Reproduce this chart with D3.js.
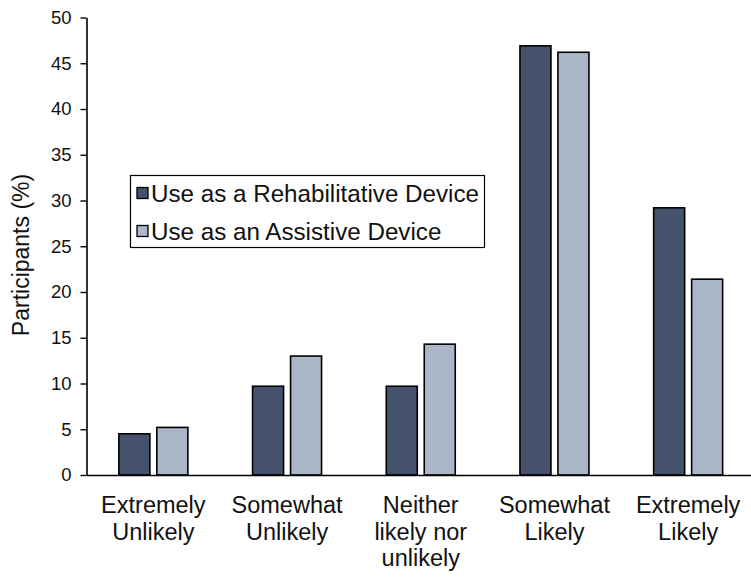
<!DOCTYPE html>
<html>
<head>
<meta charset="utf-8">
<script src="https://cdn.jsdelivr.net/npm/d3@7"></script>
<style>
  html, body { margin: 0; padding: 0; background: #fff; }
  svg { display: block; font-family: "Liberation Sans", Arial, sans-serif; }
</style>
</head>
<body>
<svg id="chart" width="751" height="577"></svg>
<script>
// Survey response categories (multi-line labels)
const categories = [
  ["Extremely", "Unlikely"],
  ["Somewhat", "Unlikely"],
  ["Neither", "likely nor", "unlikely"],
  ["Somewhat", "Likely"],
  ["Extremely", "Likely"]
];
const seriesNames = ["Use as a Rehabilitative Device", "Use as an Assistive Device"];
const rehabilitative = [4.5, 9.7, 9.7, 46.9, 29.2];
const assistive = [5.2, 13.0, 14.3, 46.2, 21.4];
const yTicks = [0, 5, 10, 15, 20, 25, 30, 35, 40, 45, 50];
const colors = ["#44536b", "#abb6c8"];

const svg = d3.select("#chart");
const catKeys = categories.map(c => c.join(" "));
const values = [rehabilitative, assistive];

const x0 = d3.scaleBand()
  .domain(catKeys)
  .range([86.5, 755])
  .paddingInner(0.484)
  .paddingOuter(0.242);

const x1 = d3.scaleBand()
  .domain(seriesNames)
  .range([0, x0.bandwidth()])
  .paddingInner(0.184);

const y = d3.scaleLinear().domain([0, 50]).range([475, 17.5]);

// Bars
const groups = svg.append("g")
  .selectAll("g")
  .data(catKeys)
  .join("g")
  .attr("transform", d => `translate(${x0(d)},0)`);

groups.selectAll("rect")
  .data((d, i) => seriesNames.map((s, j) => ({ s, v: values[j][i], j })))
  .join("rect")
  .attr("x", d => x1(d.s))
  .attr("y", d => y(d.v))
  .attr("width", x1.bandwidth())
  .attr("height", d => y(0) - y(d.v))
  .attr("fill", d => colors[d.j])
  .attr("stroke", "#000")
  .attr("stroke-width", 1.6);

// Y axis
const yAxis = svg.append("g")
  .attr("transform", "translate(86.5,0)")
  .call(d3.axisLeft(y).tickValues(yTicks).tickSize(6).tickPadding(9).tickSizeOuter(0));
yAxis.select(".domain").attr("stroke", "#000").attr("stroke-width", 1.6);
yAxis.selectAll(".tick line").attr("stroke", "#000").attr("stroke-width", 1.4);
yAxis.selectAll(".tick text")
  .attr("font-size", 18.5)
  .attr("font-family", "Liberation Sans, Arial, sans-serif")
  .attr("fill", "#111");

// X axis baseline
const xAxis = svg.append("g")
  .attr("transform", `translate(0,${y(0)})`)
  .call(d3.axisBottom(x0).tickSize(0).tickSizeOuter(0).tickFormat(""));
xAxis.select(".domain").attr("stroke", "#000").attr("stroke-width", 1.6);

// Category labels
catKeys.forEach((k, i) => {
  const cx = x0(k) + x0.bandwidth() / 2;
  const t = svg.append("text")
    .attr("x", cx)
    .attr("y", 513)
    .attr("text-anchor", "middle")
    .attr("font-size", 23.5)
    .attr("fill", "#111");
  categories[i].forEach((line, li) => {
    t.append("tspan")
      .attr("x", cx)
      .attr("dy", li === 0 ? 0 : 26.5)
      .text(line);
  });
});

// Y title
svg.append("text")
  .attr("transform", "translate(29,255) rotate(-90)")
  .attr("text-anchor", "middle")
  .attr("font-size", 23)
  .attr("fill", "#111")
  .text("Participants (%)");

// Legend
const legend = svg.append("g");
legend.append("rect")
  .attr("x", 130.5).attr("y", 175.5)
  .attr("width", 354).attr("height", 72)
  .attr("fill", "#fff")
  .attr("stroke", "#000")
  .attr("stroke-width", 1.2);

seriesNames.forEach((s, i) => {
  const cy = 193 + i * 38;
  legend.append("rect")
    .attr("x", 137).attr("y", cy - 5.5)
    .attr("width", 11).attr("height", 11)
    .attr("fill", colors[i])
    .attr("stroke", "#000")
    .attr("stroke-width", 1.3);
  legend.append("text")
    .attr("x", 151)
    .attr("y", cy + 8.5)
    .attr("font-size", 24.2)
    .attr("fill", "#111")
    .text(s);
});
</script>
</body>
</html>
